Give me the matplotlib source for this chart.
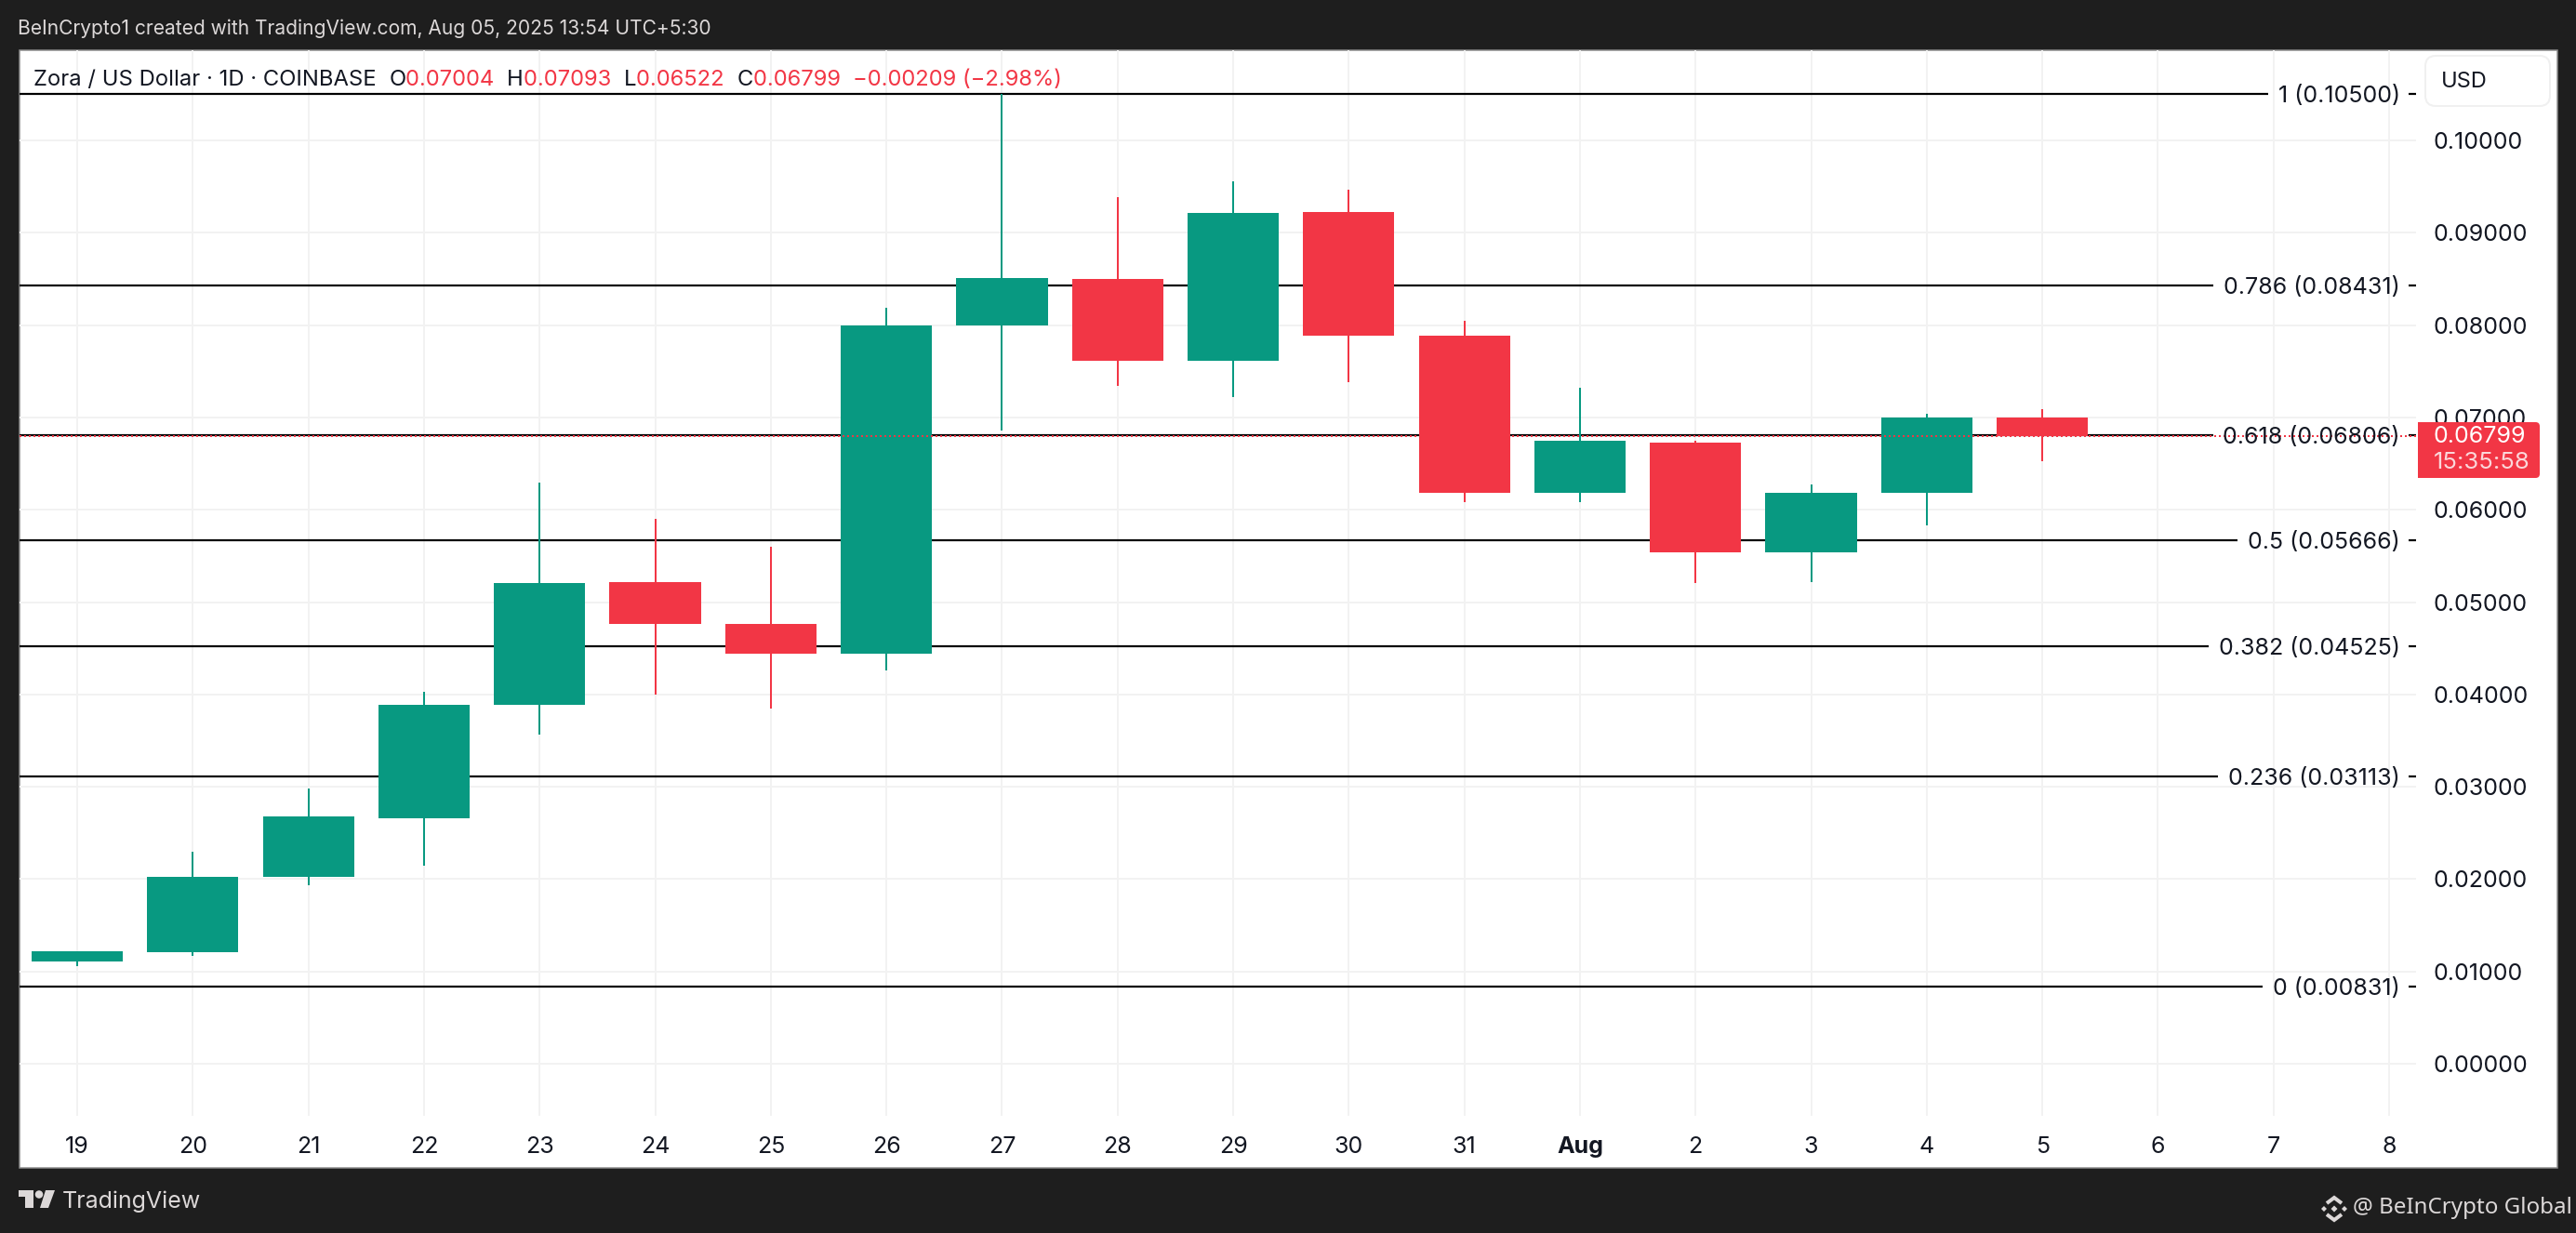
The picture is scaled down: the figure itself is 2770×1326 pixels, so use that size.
import matplotlib
matplotlib.use('Agg')
import matplotlib.pyplot as plt
from matplotlib.lines import Line2D
from matplotlib.patches import Ellipse, FancyBboxPatch, Polygon, Rectangle

W, H = 2770, 1326
PT = 72 / 100  # one pixel in points

GREEN = '#089981'
RED = '#f23645'
INK = '#131722'
GRID = '#f2f2f2'
BG = '#1e1e1e'
LIGHT = '#dcd8d8'

days = ['19', '20', '21', '22', '23', '24', '25', '26', '27', '28', '29', '30', '31',
        'Aug', '2', '3', '4', '5', '6', '7', '8']
opens = [.0111, .0121, .0202, .0266, .0389, .0522, .0476, .0444, .0800, .0850, .0761,
         .0922, .0789, .0618, .0673, .0554, .0618, .07004]
highs = [.0122, .0230, .0298, .0403, .0629, .0590, .0560, .0819, .1050, .0939, .0956,
         .0947, .0805, .0732, .0675, .0627, .0704, .07093]
lows = [.0106, .0117, .0193, .0215, .0357, .0400, .0385, .0426, .0686, .0734, .0722,
        .0738, .0608, .0608, .0521, .0522, .0583, .06522]
closes = [.0122, .0202, .0268, .0389, .0521, .0476, .0444, .0800, .0851, .0761, .0921,
          .0789, .0618, .0675, .0554, .0618, .0700, .06799]

fib_levels = [1, 0.786, 0.618, 0.5, 0.382, 0.236, 0]
fib_prices = [0.10500, 0.08431, 0.06806, 0.05666, 0.04525, 0.03113, 0.00831]
price_ticks = [0.00, 0.01, 0.02, 0.03, 0.04, 0.05, 0.06, 0.07, 0.08, 0.09, 0.10]
last_price = 0.06799


def fx(x):
    return x / W


def fy(y):
    return 1 - y / H


plt.rcParams['font.family'] = ['Inter', 'DejaVu Sans']
fig = plt.figure(figsize=(W / 100, H / 100), dpi=100, facecolor=BG)

# white panel behind chart and price scale
fig.add_artist(Rectangle((fx(21), fy(1256)), fx(2729), 1202 / H, transform=fig.transFigure,
                         facecolor='white', edgecolor='#8c8c8c', lw=1.5 * PT, zorder=0))

ax = fig.add_axes([fx(21), fy(1200), fx(2577), 1146 / H], zorder=1)
ax.patch.set_alpha(0)
for s in ax.spines.values():
    s.set_visible(False)
ax.set_xlim(-0.499, 20.233)
ax.set_ylim(-0.00564, 0.10977)

ax.set_xticks(range(len(days)))
ax.set_xticklabels(days, fontsize=18, color=INK)
for lab, d in zip(ax.get_xticklabels(), days):
    if d == 'Aug':
        lab.set_fontweight('bold')
ax.yaxis.tick_right()
ax.set_yticks(price_ticks)
ax.set_yticklabels(['%.5f' % p for p in price_ticks], fontsize=18, color=INK)
ax.tick_params(axis='x', length=0, pad=16)
ax.tick_params(axis='y', length=0, pad=13.5)
ax.grid(True, color=GRID, lw=2 * PT)
ax.set_axisbelow(True)

# candles
for i in range(len(opens)):
    col = GREEN if closes[i] >= opens[i] else RED
    ax.vlines(i, lows[i], highs[i], color=col, lw=2 * PT, zorder=3)
    ax.bar(i, abs(closes[i] - opens[i]), bottom=min(opens[i], closes[i]), width=0.79,
           color=col, lw=0, zorder=4)

# fib lines with their labels, the line stops just before the label
fig.canvas.draw()
rend = fig.canvas.get_renderer()
for lev, p in zip(fib_levels, fib_prices):
    t = fig.text(fx(2581), ax.transData.transform((0, p))[1] / H - 2.5 / H, '%s (%.5f)' % (lev, p),
                 ha='right', va='center', fontsize=18, color=INK, zorder=5)
    left = t.get_window_extent(rend).x0
    ax.plot([0, (left - 11 - 21) / 2577], [p, p], transform=ax.get_yaxis_transform(),
            color='black', lw=2.2 * PT, zorder=2, solid_capstyle='butt')
    ax.plot([(2590 - 21) / 2577, 1], [p, p], transform=ax.get_yaxis_transform(),
            color='black', lw=2.2 * PT, zorder=2, solid_capstyle='butt')

# last price line
ax.axhline(last_price, color=RED, lw=2 * PT, dashes=(1, 2), zorder=6, antialiased=False)

# top texts
fig.text(fx(19), fy(31), 'BeInCrypto1 created with TradingView.com, Aug 05, 2025 13:54 UTC+5:30',
         color=LIGHT, fontsize=15.1, va='center', ha='left')

legend_parts = [('Zora / US Dollar · 1D · COINBASE  ', INK), ('O', INK), ('0.07004  ', RED),
                ('H', INK), ('0.07093  ', RED), ('L', INK), ('0.06522  ', RED),
                ('C', INK), ('0.06799  ', RED), ('−0.00209 (−2.98%)', RED)]
x_now = 36
for txt, col in legend_parts:
    t = fig.text(fx(x_now), fy(86), txt.replace(' ', '\u00a0'), color=col, fontsize=17.15,
                 va='center', ha='left', zorder=7)
    x_now = t.get_window_extent(rend).x1

# USD box
fig.add_artist(FancyBboxPatch((fx(2608), fy(114)), fx(134), 54 / H,
                              boxstyle='round,pad=0,rounding_size=0.004', mutation_aspect=W / H,
                              transform=fig.transFigure, facecolor='white', edgecolor='#f0f0f0',
                              lw=2 * PT, zorder=5))
fig.text(fx(2625), fy(88), 'USD', color=INK, fontsize=17, va='center', ha='left', zorder=6)

# last price box
fig.add_artist(FancyBboxPatch((fx(2600), fy(514)), fx(131), 60 / H,
                              boxstyle='round,pad=0,rounding_size=0.0016', mutation_aspect=W / H,
                              transform=fig.transFigure, facecolor=RED, edgecolor='none', zorder=5))
fig.add_artist(Rectangle((fx(2600), fy(514)), fx(20), 60 / H, transform=fig.transFigure,
                         facecolor=RED, edgecolor='none', zorder=5))
fig.text(fx(2616), fy(469), '%.5f' % last_price, color='white', fontsize=18, va='center', ha='left', zorder=6)
fig.text(fx(2617), fy(497), '15:35:58', color='#fbd7da', fontsize=18.5, va='center', ha='left', zorder=6)

# TradingView logo and footer
for pts in ([(20, 1280), (36, 1280), (36, 1299), (27, 1299), (27, 1287), (20, 1287)],
            [(49, 1280), (59, 1280), (52, 1299), (43, 1299)]):
    fig.add_artist(Polygon([(fx(a), fy(b)) for a, b in pts], transform=fig.transFigure,
                           facecolor=LIGHT, edgecolor='none', zorder=5))
fig.add_artist(Ellipse((fx(42), fy(1284.5)), 8.5 / W, 8.5 / H, transform=fig.transFigure,
                       facecolor=LIGHT, edgecolor='none', zorder=5))
fig.text(fx(67), fy(1292), 'TradingView', color=LIGHT, fontsize=18, va='center', ha='left')

# BeInCrypto mark
cx, cy = 2510, 1300
for sx, sy, r in [(0, 0, 3.5), (-11, 0, 3), (11, 0, 3)]:
    fig.add_artist(Polygon([(fx(cx + sx - r), fy(cy + sy)), (fx(cx + sx), fy(cy + sy - r)),
                            (fx(cx + sx + r), fy(cy + sy)), (fx(cx + sx), fy(cy + sy + r))],
                           transform=fig.transFigure, facecolor=LIGHT, edgecolor='none', zorder=5))
for d in (-1, 1):
    fig.add_artist(Line2D([fx(cx - 8), fx(cx), fx(cx + 8)],
                          [fy(cy + d * 6), fy(cy + d * 12), fy(cy + d * 6)],
                          transform=fig.transFigure, color=LIGHT, lw=4 * PT, zorder=5,
                          solid_joinstyle='miter', solid_capstyle='butt'))
fig.text(fx(2530), fy(1299), '@ BeInCrypto Global', color=LIGHT, fontsize=17.4,
         family=['Noto Sans', 'DejaVu Sans'], va='center', ha='left')

fig.savefig('out.png', dpi=100, facecolor=BG)
